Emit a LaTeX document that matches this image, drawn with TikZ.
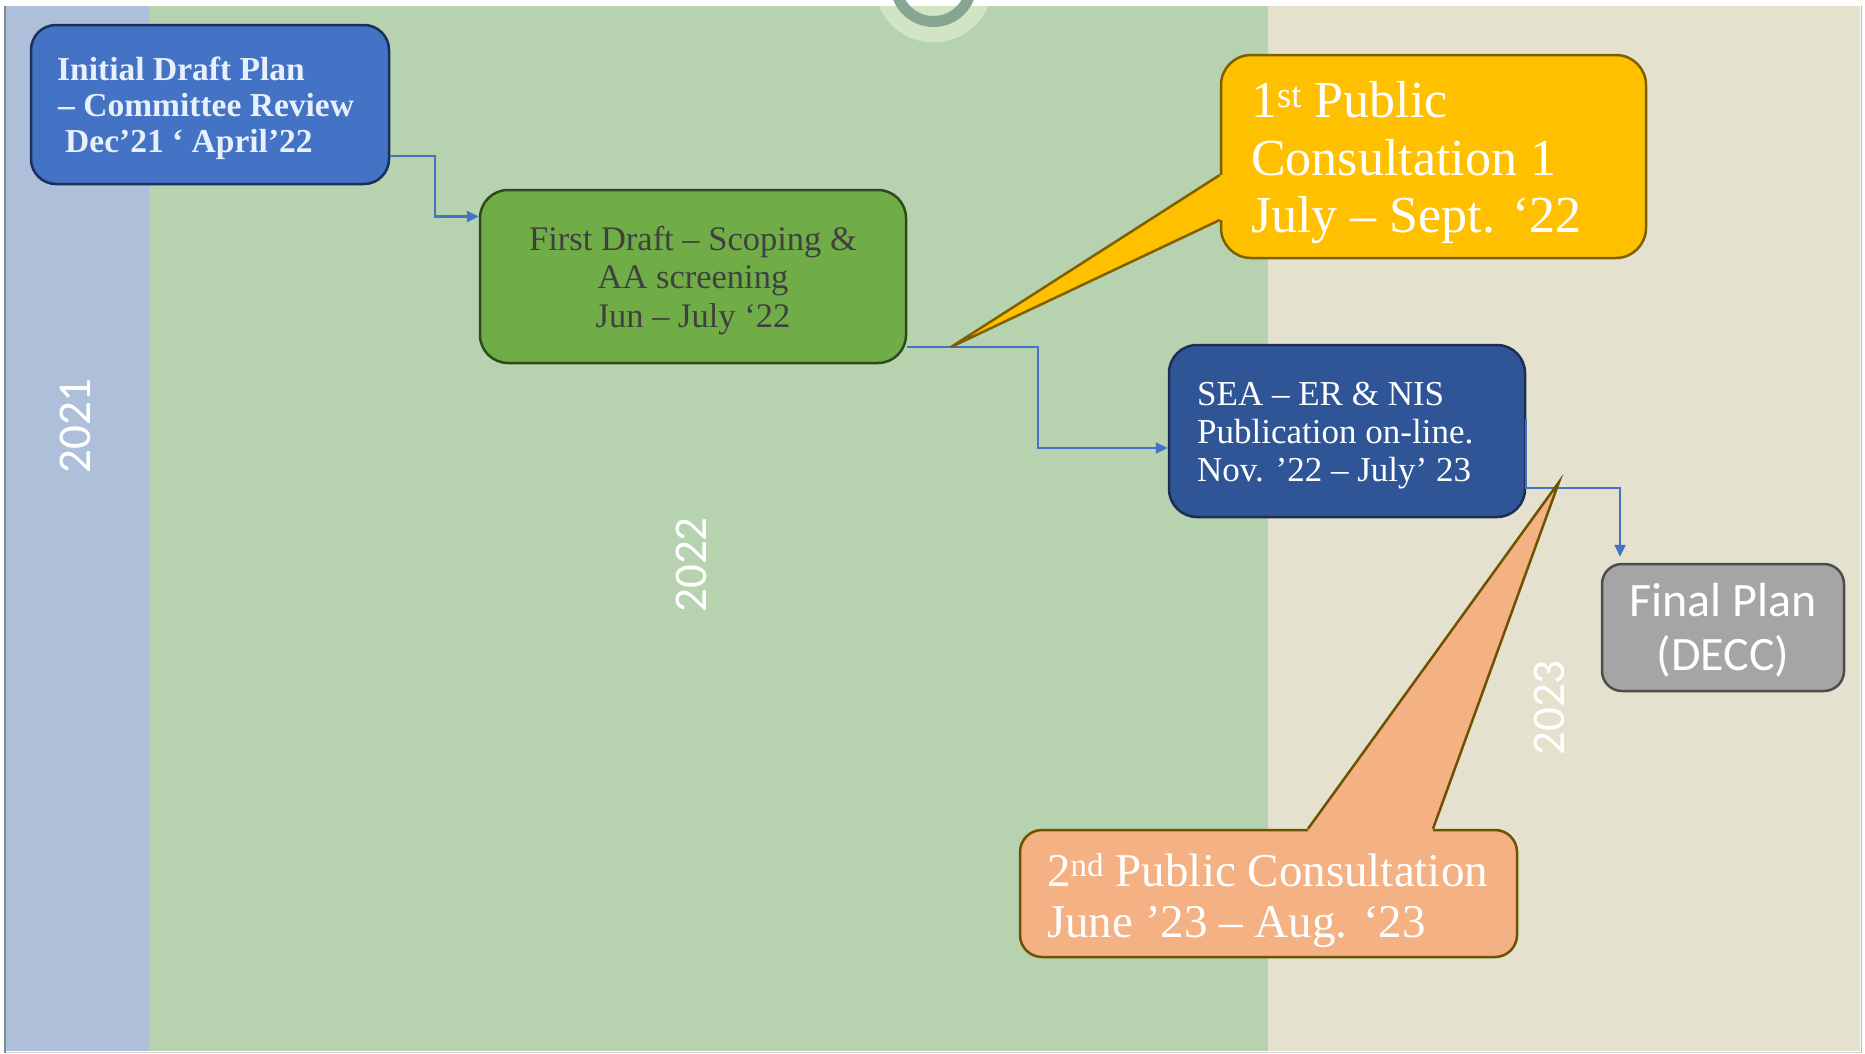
\documentclass[tikz,border=0pt]{standalone}
\usepackage{fontspec}
\setmainfont{Liberation Serif}
\newfontfamily\calib{Carlito}
\usetikzlibrary{arrows.meta,calc}
\definecolor{bgblue}{HTML}{AEBFDA}
\definecolor{bggreen}{HTML}{B6D2AF}
\definecolor{bgbeige}{HTML}{E4E1CF}
\definecolor{halo}{HTML}{D1E5C4}
\definecolor{ring}{HTML}{86A593}
\definecolor{edgegray}{HTML}{7F8F8F}
\definecolor{bAfill}{HTML}{4472C4}
\definecolor{bAbord}{HTML}{1A2F5A}
\definecolor{bAtext}{HTML}{E8F1FB}
\definecolor{bBfill}{HTML}{70AD47}
\definecolor{bBbord}{HTML}{2E4A1C}
\definecolor{bBtext}{HTML}{404040}
\definecolor{seafill}{HTML}{2F5597}
\definecolor{seabord}{HTML}{1B2E55}
\definecolor{fpfill}{HTML}{A5A5A5}
\definecolor{fpbord}{HTML}{4D4D4D}
\definecolor{yfill}{HTML}{FFC000}
\definecolor{ybord}{HTML}{7F6000}
\definecolor{ofill}{HTML}{F4B183}
\definecolor{obord}{HTML}{6E5200}
\definecolor{conncol}{HTML}{4472C4}
\begin{document}
\begin{tikzpicture}[x=1pt,y=-1pt,
  boxbase/.style={rectangle, inner sep=0pt, line width=2.5pt},
  boxA/.style={boxbase, draw=bAbord, fill=bAfill, rounded corners=25pt, minimum width=358pt, minimum height=159pt},
  boxB/.style={boxbase, draw=bBbord, fill=bBfill, rounded corners=28pt, minimum width=426pt, minimum height=173pt},
  boxSEA/.style={boxbase, draw=seabord, fill=seafill, rounded corners=28pt, minimum width=356pt, minimum height=172pt},
  boxFP/.style={boxbase, draw=fpbord, fill=fpfill, rounded corners=20pt, minimum width=242pt, minimum height=127pt},
  boxY/.style={boxbase, draw=ybord, fill=yfill, rounded corners=30pt, minimum width=425pt, minimum height=203pt},
  boxO/.style={boxbase, draw=obord, fill=ofill, rounded corners=22pt, minimum width=497pt, minimum height=127pt},
  txtA/.style={anchor=base west, inner sep=0pt, text=bAtext, font=\bfseries\fontsize{33.5}{36}\selectfont},
  txtB/.style={anchor=base, inner sep=0pt, text=bBtext, font=\fontsize{34.5}{38.5}\selectfont},
  txtSEA/.style={anchor=base west, inner sep=0pt, text=white, font=\fontsize{35}{38}\selectfont},
  txtFP/.style={anchor=base, inner sep=0pt, text=white, font=\calib\fontsize{48}{54}\selectfont},
  txtY/.style={anchor=base west, inner sep=0pt, text=white, font=\fontsize{52}{57}\selectfont},
  txtO/.style={anchor=base west, inner sep=0pt, text=white, font=\fontsize{47}{51}\selectfont},
  year/.style={rotate=90, inner sep=0pt, text=white, font=\calib\fontsize{47}{50}\selectfont},
  conn/.style={draw=conncol, line width=2.3pt, -{Triangle[length=12pt,width=11pt]}}
]
\useasboundingbox (0,0) rectangle (1865,1053);
\begin{scope}
\clip (0,0) rectangle (1865,1053);
% background
\fill[white] (0,0) rectangle (1865,1053);
\fill[bgblue] (6,6) rectangle (149,1051);
\fill[bggreen] (149,6) rectangle (1268,1051);
\fill[bgbeige] (1268,6) rectangle (1860,1051);
\draw[edgegray, line width=1.5pt] (5,6) -- (5,1053);
\draw[edgegray!60, line width=1pt] (1861,6) -- (1861,1053);
\draw[edgegray!40, line width=1pt] (6,1052) -- (1861,1052);
% top decoration
\fill[halo] (933.5,-16.5) circle[radius=59];
\fill[white] (0,0) rectangle (1865,6);
\draw[ring, line width=11pt] (933.5,-16.5) circle[radius=38];
\end{scope}

% year labels
\node[year] (y2021) at (75,426) {2021};
\node[year] (y2022) at (691,565) {2022};
\node[year] (y2023) at (1549,708) {2023};

% boxes
\node[boxA] (b1) at (210,104.5) {};
\node[boxB] (b2) at (693,276.5) {};
\node[boxSEA] (sea) at (1347,431) {};
\node[boxFP] (fp) at (1723,627.5) {};

% connectors
\draw[conn] ($(b1.east)+(0,51.5)$) -- ++(45,0) |- ($(b2.west)+(0,-60)$);
\draw[conn] ($(b2.east)+(0,70.5)$) -- ++(131,0) |- ($(sea.west)+(0,17)$);
\draw[conn] ($(sea.east)+(0,-12)$) -- ($(sea.east)+(0,57)$) -| ($(fp.north)+(-103,-6)$);

% box texts
\node[txtA] (b1l1) at (57,80) {Initial Draft Plan};
\node[txtA] (b1l2) at (58,116) {– Committee Review};
\node[txtA] (b1l3) at (65,152) {Dec’21 ‘ April’22};

\node[txtB] (b2l1) at (693,250) {First Draft – Scoping \&};
\node[txtB] (b2l2) at (693,288) {AA screening};
\node[txtB] (b2l3) at (693,327) {Jun – July ‘22};

\node[txtSEA] (seal1) at (1197,405) {SEA – ER \& NIS};
\node[txtSEA] (seal2) at (1197,443) {Publication on-line.};
\node[txtSEA] (seal3) at (1197,481) {Nov. ’22 – July’ 23};

\node[txtFP] (fpl1) at (1723,616) {Final Plan};
\node[txtFP] (fpl2) at (1723,670) {(DECC)};

% callout 1 (yellow)
\node[boxY] (c1) at (1433.5,156.5) {};
\coordinate (c1tip) at (951,347);
\fill[yfill] ($(c1.west)+(0,18.5)$) -- (c1tip) -- ($(c1.west)+(0,63.5)$) -- ($(c1.west)+(4,63.5)$) -- ($(c1.west)+(4,18.5)$) -- cycle;
\draw[ybord, line width=2.5pt] ($(c1.west)+(0,18.5)$) -- (c1tip) -- ($(c1.west)+(0,63.5)$);
\node[txtY] (c1l1) at (1251,117) {1\textsuperscript{st} Public};
\node[txtY] (c1l2) at (1251,175) {Consultation 1};
\node[txtY] (c1l3) at (1251,232) {July – Sept. ‘22};

% callout 2 (orange)
\node[boxO] (c2) at (1268.5,893.5) {};
\coordinate (c2tip) at (1559,482);
\fill[ofill] ($(c2.north)+(39.5,0)$) -- (c2tip) -- ($(c2.north)+(164.5,0)$) -- ($(c2.north)+(164.5,4)$) -- ($(c2.north)+(39.5,4)$) -- cycle;
\draw[obord, line width=2.5pt] ($(c2.north)+(39.5,0)$) -- (c2tip) -- ($(c2.north)+(164.5,0)$);
\node[txtO] (c2l1) at (1047,886) {2\textsuperscript{nd} Public Consultation};
\node[txtO] (c2l2) at (1047,937) {June ’23 – Aug. ‘23};
\end{tikzpicture}
\end{document}
